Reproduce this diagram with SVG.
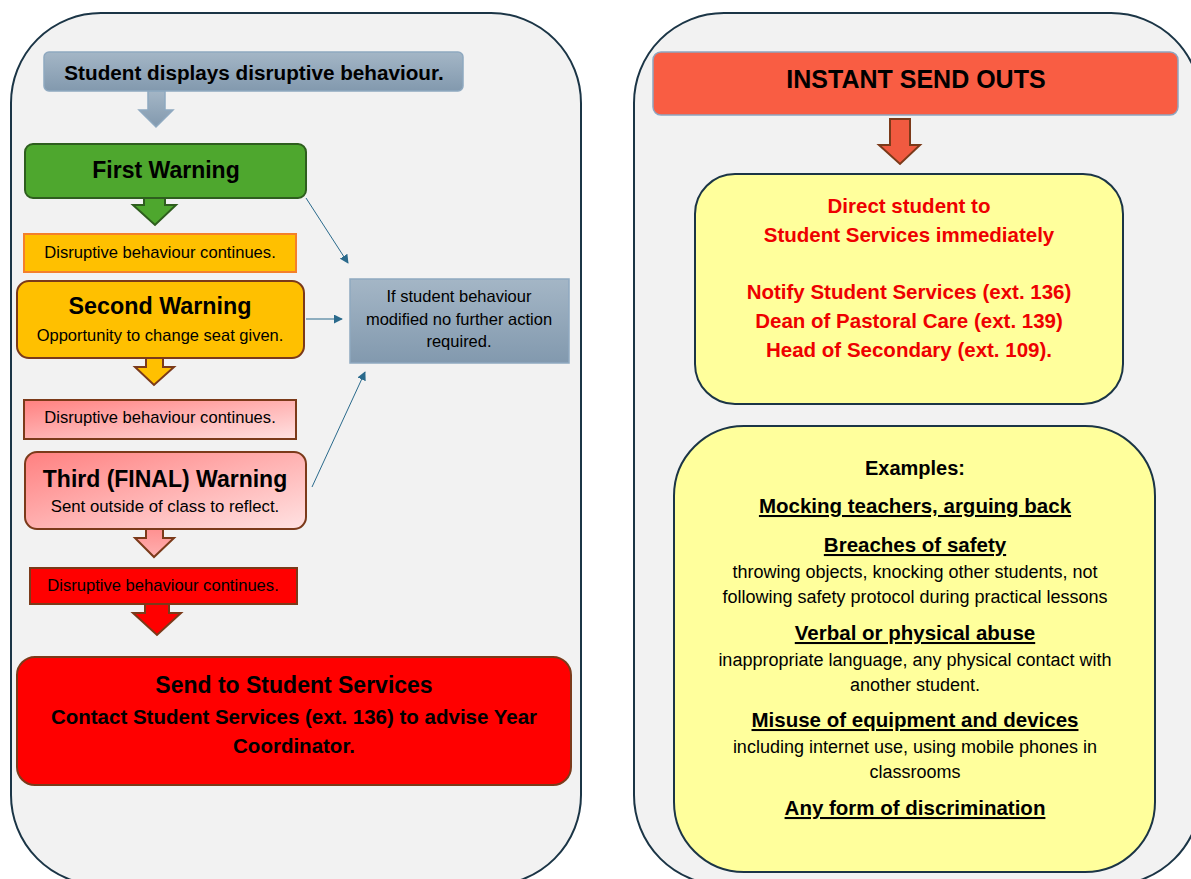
<svg xmlns="http://www.w3.org/2000/svg" width="1191" height="879" viewBox="0 0 1191 879">
<style>
text{font-family:"Liberation Sans",Arial,sans-serif;text-anchor:middle;fill:#000}
.b{font-weight:bold}
.ul{text-decoration:underline}
.red{fill:#ee0000}
.panel{fill:#f2f2f2;stroke:#1b3546;stroke-width:2}
.conn{stroke:#2a6a8c;stroke-width:1;fill:none}
.brown{stroke:#7b3a1a;stroke-width:2}
</style>
<defs>
<linearGradient id="gBlue" x1="0" y1="0" x2="0" y2="1"><stop offset="0" stop-color="#a4b6c6"/><stop offset="1" stop-color="#8299ae"/></linearGradient>
<linearGradient id="gPink" x1="0" y1="0" x2="1" y2="1"><stop offset="0" stop-color="#ff8080"/><stop offset="1" stop-color="#ffe2e2"/></linearGradient>
<linearGradient id="gPinkA" x1="0" y1="0" x2="0" y2="1"><stop offset="0" stop-color="#ff9090"/><stop offset="1" stop-color="#ffb0b0"/></linearGradient>
<marker id="ah" viewBox="0 0 10 10" refX="9" refY="5" markerWidth="9" markerHeight="9" markerUnits="userSpaceOnUse" orient="auto"><path d="M0,0 L10,5 L0,10 z" fill="#2a6a8c"/></marker>
</defs>

<rect class="panel" x="11" y="13" width="570" height="872" rx="90"/>
<rect class="panel" x="634" y="13" width="567" height="872" rx="90"/>

<g id="connectors">
<polygon points="148,91 165,91 165,110 173,110 156,127 139,110 148,110" fill="url(#gBlue)" stroke="#8fa9c0" stroke-width="1.5"/>
<polygon points="144,198 165,198 165,205 176,205 155,225 133,205 144,205" fill="#4ea72e" stroke="#2e5e1e" stroke-width="2"/>
<polygon points="146,358 163,358 163,367 174,367 154,385 135,367 146,367" fill="#ffc000" stroke="#7b3a1a" stroke-width="2"/>
<polygon points="146,529 163,529 163,538 174,538 154,557 135,538 146,538" fill="url(#gPinkA)" stroke="#7b3a1a" stroke-width="2"/>
<polygon points="145,604 169,604 169,613 181,613 157,635 133,613 145,613" fill="#ff0000" stroke="#7b3a1a" stroke-width="2"/>
<polygon points="890,119 910,119 910,145 920,145 900,164 879,145 890,145" fill="#f05a40" stroke="#7b3a1a" stroke-width="2"/>
<line class="conn" x1="306" y1="198" x2="348" y2="263" marker-end="url(#ah)"/>
<line class="conn" x1="306" y1="319" x2="342" y2="319" marker-end="url(#ah)"/>
<line class="conn" x1="312" y1="487" x2="365" y2="372" marker-end="url(#ah)"/>
</g>

<g id="start">
<rect x="44" y="52" width="419" height="39" rx="5" fill="url(#gBlue)" stroke="#8fa9c0" stroke-width="1.5"/>
<text class="b" x="254" y="80" font-size="20.7">Student displays disruptive behaviour.</text>
</g>

<g id="first-warning">
<rect x="25" y="144" width="281" height="54" rx="8" fill="#4ea72e" stroke="#2e5e1e" stroke-width="2"/>
<text class="b" x="166" y="178" font-size="23">First Warning</text>
</g>

<g id="continues-1">
<rect x="24" y="234" width="272" height="38" fill="#ffc000" stroke="#f4802b" stroke-width="2"/>
<text x="160" y="258" font-size="16.6">Disruptive behaviour continues.</text>
</g>

<g id="second-warning">
<rect x="17" y="281" width="287" height="77" rx="12" fill="#ffc000" stroke="#7b3a1a" stroke-width="2"/>
<text class="b" x="160" y="314" font-size="23.3">Second Warning</text>
<text x="160" y="341" font-size="16.5">Opportunity to change seat given.</text>
</g>

<g id="no-further-action">
<rect x="350" y="279" width="219" height="84" fill="url(#gBlue)" stroke="#8fa9c0" stroke-width="1.5"/>
<text x="459" y="302" font-size="16.5">If student behaviour</text>
<text x="459" y="325" font-size="16.5">modified no further action</text>
<text x="459" y="347" font-size="16.5">required.</text>
</g>

<g id="continues-2">
<rect x="24" y="400" width="272" height="39" fill="url(#gPink)" stroke="#7b3a1a" stroke-width="2"/>
<text x="160" y="423" font-size="16.6">Disruptive behaviour continues.</text>
</g>

<g id="third-warning">
<rect x="25" y="452" width="281" height="77" rx="12" fill="url(#gPink)" stroke="#7b3a1a" stroke-width="2"/>
<text class="b" x="165" y="487" font-size="23">Third (FINAL) Warning</text>
<text x="165" y="512" font-size="16.8">Sent outside of class to reflect.</text>
</g>

<g id="continues-3">
<rect x="30" y="568" width="267" height="36" fill="#ff0000" stroke="#7b3a1a" stroke-width="2"/>
<text x="163" y="591" font-size="16.6">Disruptive behaviour continues.</text>
</g>

<g id="send-to-student-services">
<rect x="17" y="657" width="554" height="128" rx="18" fill="#ff0000" stroke="#7b3a1a" stroke-width="2"/>
<text class="b" x="294" y="693" font-size="23">Send to Student Services</text>
<text class="b" x="294" y="724" font-size="20.5">Contact Student Services (ext. 136) to advise Year</text>
<text class="b" x="294" y="753" font-size="20.5">Coordinator.</text>
</g>

<g id="instant-send-outs">
<rect x="653" y="52" width="525" height="63" rx="8" fill="#f95d43" stroke="#8ea5c0" stroke-width="1.5"/>
<text class="b" x="916" y="88" font-size="25">INSTANT SEND OUTS</text>
</g>

<g id="direct-student">
<rect x="695" y="174" width="428" height="230" rx="40" fill="#ffff9c" stroke="#1b3546" stroke-width="2"/>
<text class="b red" x="909" y="213" font-size="20.5">Direct student to</text>
<text class="b red" x="909" y="242" font-size="20.5">Student Services immediately</text>
<text class="b red" x="909" y="299" font-size="20.5">Notify Student Services (ext. 136)</text>
<text class="b red" x="909" y="328" font-size="20.5">Dean of Pastoral Care (ext. 139)</text>
<text class="b red" x="909" y="357" font-size="20.5">Head of Secondary (ext. 109).</text>
</g>

<g id="examples">
<rect x="674" y="426" width="481" height="446" rx="70" fill="#ffff9c" stroke="#1b3546" stroke-width="2"/>
<text class="b" x="915" y="475" font-size="20">Examples:</text>
<text class="b ul" x="915" y="513" font-size="20.5">Mocking teachers, arguing back</text>
<text class="b ul" x="915" y="552" font-size="20.5">Breaches of safety</text>
<text x="915" y="578" font-size="18">throwing objects, knocking other students, not</text>
<text x="915" y="603" font-size="18">following safety protocol during practical lessons</text>
<text class="b ul" x="915" y="640" font-size="20.5">Verbal or physical abuse</text>
<text x="915" y="666" font-size="18">inappropriate language, any physical contact with</text>
<text x="915" y="691" font-size="18">another student.</text>
<text class="b ul" x="915" y="727" font-size="20.5">Misuse of equipment and devices</text>
<text x="915" y="753" font-size="18">including internet use, using mobile phones in</text>
<text x="915" y="778" font-size="18">classrooms</text>
<text class="b ul" x="915" y="815" font-size="20.5">Any form of discrimination</text>
</g>
</svg>
